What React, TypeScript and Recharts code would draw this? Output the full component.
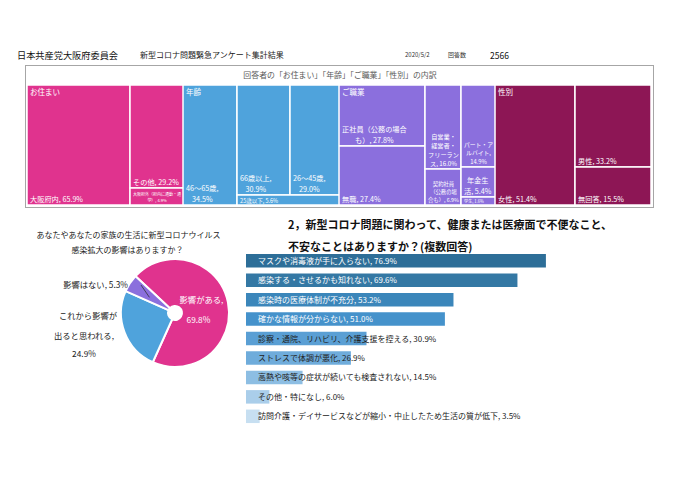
import { Treemap, PieChart, Pie, Cell, BarChart, Bar, XAxis, YAxis, LabelList } from "recharts";

const FONT = '"Noto Sans CJK JP", "Noto Sans", sans-serif';

// 回答者の内訳（%）
const residenceNames = ["大阪府内", "その他", "大阪府外（府内に通勤・通学）"];
const residenceValues = [65.9, 29.2, 4.9];
const residenceLines = [["大阪府内, 65.9%"], ["その他, 29.2%"], ["大阪府外（府内に通勤・通", "学）, 4.9%"]];

const ageNames = ["46～65歳", "66歳以上", "26～45歳", "25歳以下"];
const ageValues = [34.5, 30.9, 29.0, 5.6];
const ageLines = [["46～65歳,", "34.5%"], ["66歳以上,", "30.9%"], ["26～45歳,", "29.0%"], ["25歳以下, 5.6%"]];

const jobNames = [
  "正社員（公務の場合も）",
  "無職",
  "自営業・経営者・フリーランス",
  "契約社員（公務の場合も）",
  "パート・アルバイト",
  "年金生活",
  "学生",
];
const jobValues = [27.8, 27.4, 16.0, 6.9, 14.9, 5.4, 1.6];
const jobLines = [
  ["正社員（公務の場合", "も）, 27.8%"],
  ["無職, 27.4%"],
  ["自営業・", "経営者・", "フリーラン", "ス, 16.0%"],
  ["契約社員", "（公務の場", "合も）, 6.9%"],
  ["パート・ア", "ルバイト,", "14.9%"],
  ["年金生", "活, 5.4%"],
  ["学生, 1.6%"],
];

const genderNames = ["女性", "男性", "無回答"];
const genderValues = [51.4, 33.2, 15.5];
const genderLines = [["女性, 51.4%"], ["男性, 33.2%"], ["無回答, 15.5%"]];

// 影響はありますか？
const pieNames = ["影響がある", "これから影響が出ると思われる", "影響はない"];
const pieValues = [69.8, 24.9, 5.3];

// 健康または医療面で不便なこと
const issueNames = [
  "マスクや消毒液が手に入らない",
  "感染する・させるかも知れない",
  "感染時の医療体制が不充分",
  "確かな情報が分からない",
  "診察・通院、リハビリ、介護支援を控える",
  "ストレスで体調が悪化",
  "高熱や咳等の症状が続いても検査されない",
  "その他・特になし",
  "訪問介護・デイサービスなどが縮小・中止したため生活の質が低下",
];
const issueValues = [76.9, 69.6, 53.2, 51.0, 30.9, 26.9, 14.5, 6.0, 3.5];

const PINK = "#E0338E";
const BLUE = "#4FA3DC";
const PURPLE = "#8B6FDD";
const WINE = "#8D1655";
const pieColors = [PINK, BLUE, PURPLE];
const barColors = ["#2D6E98", "#3478A4", "#3B86BA", "#4592CB", "#5A9FD4", "#6FACDB", "#8DBEE3", "#AACEEA", "#C7DFF1"];

const leaf = (names: string[], values: number[], lines: string[][], i: number) => ({
  name: names[i],
  value: values[i],
  lines: lines[i],
});

const residenceTree = residenceNames.map((_, i) => leaf(residenceNames, residenceValues, residenceLines, i));
const ageTree = [
  leaf(ageNames, ageValues, ageLines, 0),
  {
    name: "age-rest",
    children: [
      { name: "age-top", children: [leaf(ageNames, ageValues, ageLines, 1), leaf(ageNames, ageValues, ageLines, 2)] },
      leaf(ageNames, ageValues, ageLines, 3),
    ],
  },
];
const jobTree = [
  leaf(jobNames, jobValues, jobLines, 0),
  leaf(jobNames, jobValues, jobLines, 1),
  {
    name: "job-rest",
    children: [
      { name: "job-a", children: [leaf(jobNames, jobValues, jobLines, 2), leaf(jobNames, jobValues, jobLines, 3)] },
      {
        name: "job-b",
        children: [
          leaf(jobNames, jobValues, jobLines, 4),
          leaf(jobNames, jobValues, jobLines, 5),
          leaf(jobNames, jobValues, jobLines, 6),
        ],
      },
    ],
  },
];
const genderTree = genderNames.map((_, i) => leaf(genderNames, genderValues, genderLines, i));

function textWidth(s: string, f: number) {
  let w = 0;
  for (const ch of s) {
    const c = ch.charCodeAt(0);
    if (c > 0x2e80) w += f;
    else if (ch === "," || ch === "." || ch === " ") w += f * 0.28;
    else if (ch === "%") w += f * 0.85;
    else w += f * 0.56;
  }
  return w;
}

function makeCell(title: string, color: string) {
  return (props: any) => {
    const { x, y, width, height, depth, index, children, lines } = props;
    if ((children && children.length) || !lines) return <g />;
    const longest = Math.max(...lines.map((l: string) => textWidth(l, 1)));
    let f = Math.min(7.2, (width - 5) / longest);
    if (lines.length * f * 1.45 + 2 > height) f = Math.min(f, (height - 2) / (lines.length * 1.45));
    const lh = f * 1.45;
    const blockW = longest * f;
    const cx = x + 3 + blockW / 2;
    const last = y + height - Math.min(3.5, height * 0.25);
    return (
      <g>
        <rect x={x} y={y} width={width} height={height} fill={color} stroke="#fff" strokeWidth={1.5} />
        {depth === 1 && index === 0 && (
          <text x={x + 3} y={y + 10} fontSize={7.5} fill="#fff" style={{ fontFamily: FONT }}>
            {title}
          </text>
        )}
        {lines.map((l: string, i: number) => (
          <text
            key={i}
            x={cx}
            y={last - (lines.length - 1 - i) * lh}
            fontSize={f}
            fill="#fff"
            textAnchor="middle"
            style={{ fontFamily: FONT }}
          >
            {l}
          </text>
        ))}
      </g>
    );
  };
}

const groups = [
  { title: "お住まい", data: residenceTree, color: PINK, ratio: 1.2 },
  { title: "年齢", data: ageTree, color: BLUE, ratio: 1.2 },
  { title: "ご職業", data: jobTree, color: PURPLE, ratio: 1.8 },
  { title: "性別", data: genderTree, color: WINE, ratio: 1.2 },
];

const RADIAN = Math.PI / 180;

function renderPieLabel(props: any) {
  const { cx, cy, midAngle, index } = props;
  const style = { fontFamily: FONT };
  if (index === 0) {
    const lx = cx + 27 * Math.cos(-midAngle * RADIAN);
    const ly = cy + 27 * Math.sin(-midAngle * RADIAN);
    return (
      <g>
        <text x={lx} y={ly - 5} fontSize={8.3} fill="#fff" textAnchor="middle" style={style}>
          影響がある,
        </text>
        <text x={lx - 3} y={ly + 15} fontSize={8.3} fill="#fff" textAnchor="middle" style={style}>
          {pieValues[0].toFixed(1)}%
        </text>
      </g>
    );
  }
  if (index === 1) {
    return (
      <g>
        <text x={cx - 87} y={cy + 6} fontSize={8.3} fill="#222" textAnchor="middle" style={style}>
          これから影響が
        </text>
        <text x={cx - 91} y={cy + 26} fontSize={8.3} fill="#222" textAnchor="middle" style={style}>
          出ると思われる,
        </text>
        <text x={cx - 91} y={cy + 44} fontSize={8.3} fill="#222" textAnchor="middle" style={style}>
          {pieValues[1].toFixed(1)}%
        </text>
      </g>
    );
  }
  const p1x = cx + 44 * Math.cos(-(midAngle - 6) * RADIAN);
  const p1y = cy + 44 * Math.sin(-(midAngle - 6) * RADIAN);
  const p2x = cx + 30 * Math.cos(-(midAngle + 2) * RADIAN);
  const p2y = cy + 30 * Math.sin(-(midAngle + 2) * RADIAN);
  return (
    <g>
      <line x1={p1x} y1={p1y} x2={p2x} y2={p2y} stroke="#333" strokeWidth={0.8} />
      <text x={cx - 47} y={cy - 25} fontSize={8.3} fill="#222" textAnchor="end" style={style}>
        影響はない, {pieValues[2].toFixed(1)}%
      </text>
    </g>
  );
}

function renderBarLabel(props: any) {
  const { x, y, width, height, value } = props;
  const s = String(value);
  let w = 0;
  for (const ch of s) w += ch.charCodeAt(0) > 0x2e80 ? 8 : 4.4;
  const inside = w < width - 14;
  return (
    <text
      x={x + 12}
      y={y + height / 2 + 3}
      fontSize={8}
      fill={inside ? "#fff" : "#222"}
      style={{ fontFamily: FONT }}
    >
      {s}
    </text>
  );
}

const pieData = pieNames.map((name, i) => ({ name, value: pieValues[i] }));
const issueData = issueNames.map((name, i) => ({
  name,
  value: issueValues[i],
  text: `${name}, ${issueValues[i].toFixed(1)}%`,
}));

export default function App() {
  return (
    <div style={{ position: "absolute", left: 0, top: 0, width: 690, height: 488, background: "#fff", fontFamily: FONT }}>
      <svg width={690} height={488} style={{ position: "absolute", left: 0, top: 0 }}>
        <g style={{ fontFamily: FONT }}>
          <text x={17} y={58.5} fontSize={9.2} fill="#111">日本共産党大阪府委員会</text>
          <text x={140} y={58} fontSize={8} fill="#222">新型コロナ問題緊急アンケート集計結果</text>
          <text x={405} y={57} fontSize={6} fill="#333">2020/5/2</text>
          <text x={448} y={57} fontSize={6} fill="#333">回答数</text>
          <text x={490} y={58.5} fontSize={8.5} fill="#111">2566</text>
          <rect x={25.5} y={65.5} width={628} height={142} fill="none" stroke="#a6a6a6" strokeWidth={1} />
          <text x={340} y={78} fontSize={7.9} fill="#595959" textAnchor="middle">
            回答者の「お住まい」「年齢」「ご職業」「性別」の内訳
          </text>
          <text x={128.5} y={238} fontSize={8} fill="#222" textAnchor="middle">
            あなたやあなたの家族の生活に新型コロナウイルス
          </text>
          <text x={127.5} y={252.5} fontSize={8} fill="#222" textAnchor="middle">
            感染拡大の影響はありますか？
          </text>
          <text x={288} y={229} fontSize={11} fontWeight="bold" fill="#111">
            2，新型コロナ問題に関わって、健康または医療面で不便なこと、
          </text>
          <text x={288} y={251} fontSize={11} fontWeight="bold" fill="#111">
            不安なことはありますか？(複数回答)
          </text>
        </g>
      </svg>

      <div style={{ position: "absolute", left: 27, top: 85, display: "flex" }}>
        {groups.map((g) => (
          <Treemap
            key={g.title}
            width={156}
            height={120}
            data={g.data}
            dataKey="value"
            aspectRatio={g.ratio}
            isAnimationActive={false}
            content={makeCell(g.title, g.color)}
          />
        ))}
      </div>

      <div style={{ position: "absolute", left: 20, top: 233 }}>
        <PieChart width={240} height={150}>
          <Pie
            data={pieData}
            dataKey="value"
            nameKey="name"
            cx={150}
            cy={75}
            innerRadius={7}
            outerRadius={54}
            startAngle={137}
            endAngle={-223}
            stroke="#fff"
            strokeWidth={2}
            label={renderPieLabel}
            labelLine={false}
            isAnimationActive={false}
          >
            {pieData.map((d, i) => (
              <Cell key={d.name} fill={pieColors[i]} />
            ))}
          </Pie>
        </PieChart>
      </div>

      <div style={{ position: "absolute", left: 246, top: 251 }}>
        <BarChart layout="vertical" width={390} height={175} data={issueData} margin={{ top: 0, right: 0, bottom: 0, left: 0 }}>
          <XAxis type="number" domain={[0, 100]} hide />
          <YAxis type="category" dataKey="name" hide width={0} />
          <Bar dataKey="value" barSize={13.5} isAnimationActive={false}>
            {issueData.map((d, i) => (
              <Cell key={d.name} fill={barColors[i]} />
            ))}
            <LabelList dataKey="text" content={renderBarLabel} />
          </Bar>
        </BarChart>
      </div>
    </div>
  );
}
